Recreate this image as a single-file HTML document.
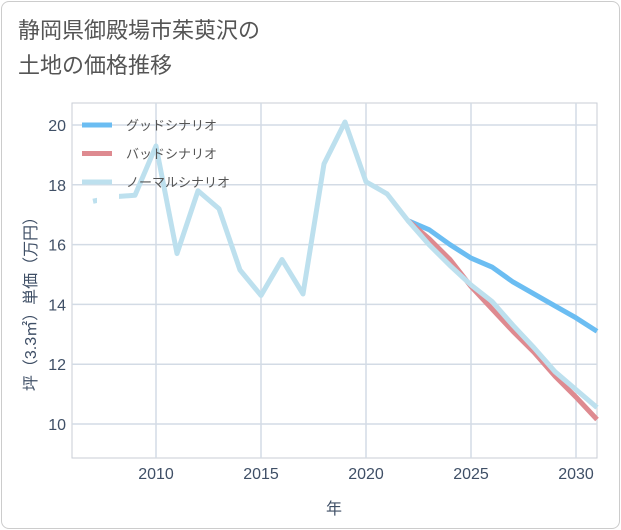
<!DOCTYPE html>
<html><head><meta charset="utf-8"><style>
body{margin:0;background:#fff;font-family:"Liberation Sans","Noto Sans CJK JP",sans-serif;}
#card{position:absolute;left:1px;top:1px;width:617px;height:526px;border:1px solid #ccc;border-radius:8px;background:#fff;}
#title{position:absolute;left:18px;top:13px;font-size:22px;line-height:35px;color:#555;}
</style></head><body>
<div id="card"></div>
<div id="title">静岡県御殿場市茱萸沢の<br>土地の価格推移</div>
<svg id="chart" width="621" height="530" style="position:absolute;left:0;top:0"></svg>
<script>
const years=[2007,2008,2009,2010,2011,2012,2013,2014,2015,2016,2017,2018,2019,2020,2021,2022,2023,2024,2025,2026,2027,2028,2029,2030,2031];
const normal=[17.45,17.6,17.65,19.3,15.7,17.8,17.2,15.15,14.3,15.5,14.35,18.7,20.1,18.1,17.7,16.8,16.0,15.3,14.65,14.1,13.3,12.55,11.75,11.15,10.55];
const goodYears=[2022,2023,2024,2025,2026,2027,2028,2029,2030,2031];
const good=[16.8,16.5,16.0,15.55,15.25,14.75,14.35,13.95,13.55,13.1];
const bad=[16.8,16.2,15.5,14.6,13.85,13.1,12.4,11.6,10.9,10.15];
const xTicks=[2010,2015,2020,2025,2030];
const yTicks=[10,12,14,16,18,20];
const L=72,R=597,T=103,B=458;
const x=v=>L+(v-2006)*(R-L)/25;
const y=v=>125+(20-v)*29.9;
const svg=document.getElementById('chart');
const NS='http://www.w3.org/2000/svg';
function mk(t,a){const e=document.createElementNS(NS,t);for(const k in a)e.setAttribute(k,a[k]);svg.appendChild(e);return e;}
let frame=mk('rect',{x:L,y:T,width:R-L,height:B-T,fill:'#fff',stroke:'#c8ced6'});


xTicks.forEach(t=>{
 let g=mk('line',{x1:x(t),x2:x(t),y1:T,y2:B,stroke:'#d3dbe5','stroke-width':1.5});
 
 
 let tx=mk('text',{x:x(t),y:479,'text-anchor':'middle','font-size':16,fill:'#3f4f66'});tx.textContent=t;
 
 
});
yTicks.forEach(t=>{
 let g=mk('line',{x1:L,x2:R,y1:y(t),y2:y(t),stroke:'#d3dbe5','stroke-width':1.5});
 
 
 let tx=mk('text',{x:66,y:y(t)+6,'text-anchor':'end','font-size':16,fill:'#3f4f66'});tx.textContent=t;
 
 
});
function line(xs,vs,c,name){
 let p=mk('polyline',{points:xs.map((v,i)=>x(v)+','+y(vs[i])).join(' '),fill:'none',stroke:c,'stroke-width':5,'stroke-linejoin':'round'});
 
 
}
line(goodYears,good,'#6bbdf2','good-scenario-line');
line(goodYears,bad,'#de8a90','bad-scenario-line');
line(years,normal,'#bde0ee','normal-scenario-line');
let lg=mk('rect',{x:97,y:188,width:22,height:20,fill:'#fff'});


const legNames=['グッドシナリオ','バッドシナリオ','ノーマルシナリオ'];
const legColors=['#6bbdf2','#de8a90','#bde0ee'];
legNames.forEach((n,i)=>{
 let yy=125+i*28.5;
 let s=mk('line',{x1:82,x2:112,y1:yy,y2:yy,stroke:legColors[i],'stroke-width':5});
 
 
 let t=mk('text',{x:126,y:yy+5,'font-size':13,fill:'#555'});t.textContent=n;
 
 
});
let xt=mk('text',{x:334,y:514,'text-anchor':'middle','font-size':16,fill:'#3f4f66'});xt.textContent='年';


let yt=mk('text',{x:0,y:0,'text-anchor':'middle','font-size':16,fill:'#3f4f66',transform:'translate(36,300) rotate(-90)'});yt.textContent='坪（3.3㎡）単価（万円）';


</script>
</body></html>
